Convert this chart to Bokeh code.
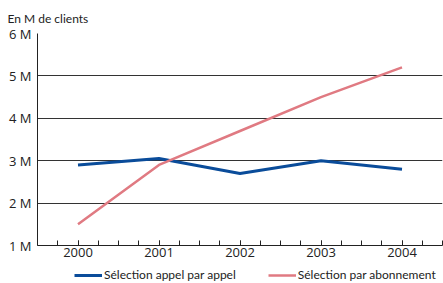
from bokeh.plotting import figure
from bokeh.layouts import column
from bokeh.models import SingleIntervalTicker, FixedTicker, Legend, LegendItem, Range1d
from bokeh.embed import file_html
from bokeh.resources import INLINE

years = [2000, 2001, 2002, 2003, 2004]
appel = [2.9, 3.05, 2.7, 3.0, 2.8]
abonnement = [1.5, 2.9, 3.7, 4.5, 5.2]
y_ticks = [1, 2, 3, 4, 5, 6]
y_labels = {1: "1 M", 2: "2 M", 3: "3 M", 4: "4 M", 5: "5 M", 6: "6 M"}
series_names = ["Sélection appel par appel", "Sélection par abonnement"]
unit_label = "En M de clients"

FONT = "Open Sans"
NARROW = "Lato"
BLUE = "#0a4c9a"
RED = "#e07a82"

p = figure(width=443, height=265, output_backend="svg", toolbar_location=None,
           x_range=Range1d(1999.5, 2004.5), y_range=Range1d(1, 6),
           min_border_left=37, min_border_top=33, min_border_bottom=20, min_border_right=1)
p.outline_line_color = None
p.background_fill_color = "white"

p.title.text = unit_label
p.title.align = "left"
p.title.offset = -30
p.title.standoff = 16
p.title.text_font = NARROW
p.title.text_font_style = "normal"
p.title.text_font_size = "12px"
p.title.text_color = "#222222"

p.xaxis.ticker = SingleIntervalTicker(interval=1, num_minor_ticks=4)
p.xaxis.major_tick_in = 5
p.xaxis.major_tick_out = 0
p.xaxis.minor_tick_in = 5
p.xaxis.minor_tick_out = 0
p.xaxis.major_label_text_font = FONT
p.xaxis.major_label_text_font_size = "13px"
p.xaxis.major_label_text_color = "#222222"
p.xaxis.axis_line_color = "#222222"
p.xaxis.major_tick_line_color = "#222222"
p.xaxis.minor_tick_line_color = "#222222"
p.xaxis.major_label_standoff = 2
p.xaxis.axis_label_standoff = 0

p.yaxis.ticker = FixedTicker(ticks=y_ticks)
p.yaxis.major_label_overrides = y_labels
p.yaxis.major_tick_in = 0
p.yaxis.major_tick_out = 0
p.yaxis.minor_tick_line_color = None
p.yaxis.major_label_text_font = FONT
p.yaxis.major_label_text_font_size = "13px"
p.yaxis.major_label_text_color = "#222222"
p.yaxis.axis_line_color = "#222222"
p.yaxis.major_label_standoff = 6

p.xgrid.grid_line_color = None
p.ygrid.grid_line_color = "#333333"
p.ygrid.grid_line_width = 1

p.line(years, appel, line_color=BLUE, line_width=3)
p.line(years, abonnement, line_color=RED, line_width=2.5)

# Separate strip holding the legend (its sample lines use the same series,
# drawn out of view so only the legend swatches show)
lg = figure(width=443, height=18, output_backend="svg", toolbar_location=None,
            x_range=Range1d(0, 1), y_range=Range1d(0, 1),
            x_axis_type=None, y_axis_type=None,
            min_border_left=0, min_border_right=0, min_border_top=0, min_border_bottom=0)
lg.outline_line_color = None
lg.xgrid.grid_line_color = None
lg.ygrid.grid_line_color = None
l1 = lg.line(years, appel, line_color=BLUE, line_width=3)
l2 = lg.line(years, abonnement, line_color=RED, line_width=2.5)

legend = Legend(items=[LegendItem(label=series_names[0], renderers=[l1]),
                       LegendItem(label=series_names[1], renderers=[l2])],
                orientation="horizontal", location=(37, 1),
                background_fill_alpha=0, border_line_color=None,
                label_text_font=NARROW, label_text_font_size="12px",
                label_text_color="#222222",
                glyph_width=28, glyph_height=10, label_standoff=2, spacing=32,
                padding=0, margin=0, label_height=12)
lg.add_layout(legend, "center")

layout = column(p, lg, spacing=0)
open("out.html", "w").write(file_html(layout, INLINE))
